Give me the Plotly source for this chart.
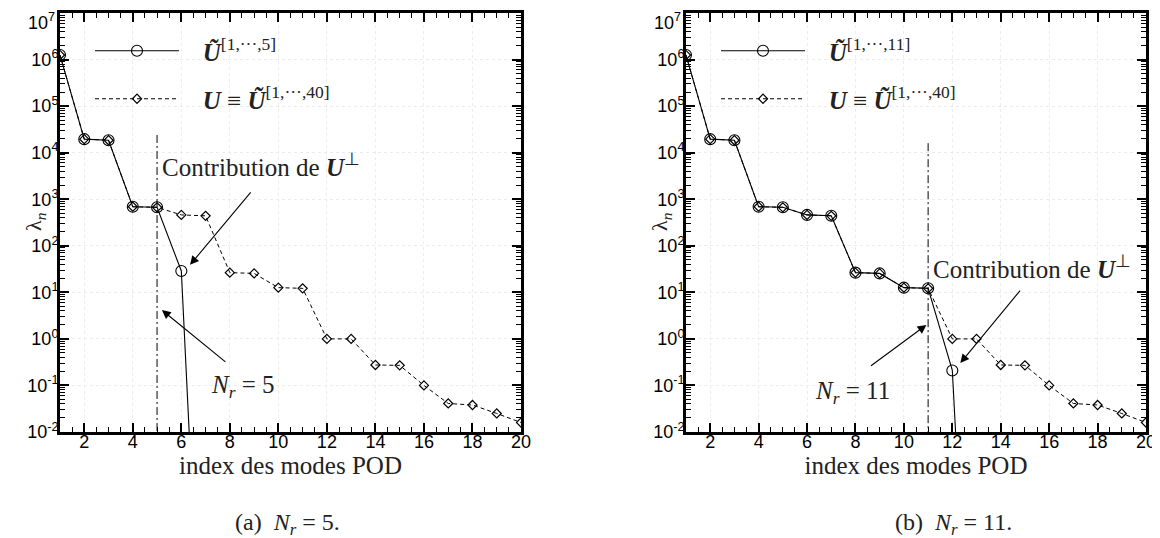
import plotly.graph_objects as go

# ---------------- data ----------------
modes = list(range(1, 21))
lambda_full = [1.25e6, 1.95e4, 1.85e4, 690, 670, 460, 440, 26.5, 25.5, 12.6, 12.2,
               1.0, 1.0, 0.275, 0.27, 0.10, 0.041, 0.038, 0.025, 0.016]
lambda_r5 = [1.25e6, 1.95e4, 1.85e4, 690, 670, 28.8, 6e-10]
lambda_r11 = [1.25e6, 1.95e4, 1.85e4, 690, 670, 460, 440, 26.5, 25.5, 12.6, 12.2, 0.21, 3e-11]
Nr_values = [5, 11]
vline_top = [2.4e4, 1.6e4]
y_exponents = list(range(-2, 8))
x_tick_vals = list(range(2, 21, 2))

SERIF = "Liberation Serif, Times New Roman, serif"
SANS = "Liberation Sans, Arial, sans-serif"

# page body has an 8px margin: figure is sized/placed to compensate
OFF = 8
W, H = 1160 - OFF, 538 - OFF

def px(x):
    return (x - OFF) / W

def py(y):
    return 1 - (y - OFF) / H

fig = go.Figure()

NB = "\u00a0\u00a0\u00a0"
panels = [
    dict(x="x", y="y", red=lambda_r5, nr=Nr_values[0], sup="[1,···,5]", lg=("legend", "legend2")),
    dict(x="x2", y="y2", red=lambda_r11, nr=Nr_values[1], sup="[1,···,11]", lg=("legend3", "legend4")),
]

for i, p in enumerate(panels):
    # full basis (dashed, diamonds)
    fig.add_trace(go.Scatter(
        x=modes, y=lambda_full, xaxis=p["x"], yaxis=p["y"], mode="lines+markers",
        line=dict(color="black", width=1, dash="4px,3px"),
        marker=dict(symbol="diamond-open", size=7, color="black", line=dict(width=1.2, color="black")),
        name=NB + "<b><i>U</i></b> ≡ <b><i>Ũ</i></b><sup>[1,···,40]</sup>",
        legend=p["lg"][1], cliponaxis=True))
    # reduced basis (solid, circles)
    fig.add_trace(go.Scatter(
        x=modes[:len(p["red"])], y=p["red"], xaxis=p["x"], yaxis=p["y"], mode="lines+markers",
        line=dict(color="black", width=1.1),
        marker=dict(symbol="circle-open", size=11, color="black", line=dict(width=1.1, color="black")),
        name=NB + "<b><i>Ũ</i></b><sup>" + p["sup"] + "</sup>",
        legend=p["lg"][0], cliponaxis=True))
    # vertical dash-dot line at N_r
    fig.add_trace(go.Scatter(
        x=[p["nr"], p["nr"]], y=[vline_top[i], 10 ** y_exponents[0]], xaxis=p["x"], yaxis=p["y"],
        mode="lines", line=dict(color="black", width=1, dash="8px,3px,2px,3px"),
        showlegend=False, hoverinfo="skip"))

def xaxis_cfg(domain):
    return dict(
        domain=domain, range=[1, 20], tickmode="array", tickvals=x_tick_vals,
        ticks="inside", ticklen=9, tickwidth=1.8, tickcolor="black",
        showline=True, linewidth=3, linecolor="black", mirror="allticks",
        showgrid=True, gridcolor="#ececec", griddash="dot", gridwidth=1,
        zeroline=False, automargin=False, ticklabelstandoff=-9, ticklabeloverflow="allow",
        minor=dict(tickmode="linear", tick0=0, dtick=0.5, ticks="inside", ticklen=5,
                   tickwidth=1.2, tickcolor="black", showgrid=False),
        tickfont=dict(family=SANS, size=18, color="black"),
        title=dict(text="index des modes POD", font=dict(family=SERIF, size=25, color="#222"), standoff=2),
    )

minor_y = [k * 10 ** e for e in y_exponents[:-1] for k in range(2, 10)]
# the top label (10^7) would be clipped at the page edge; it is drawn as an annotation below
y_tick_text = ["10<sup>%d</sup>" % e if e < y_exponents[-1] else "" for e in y_exponents]

def yaxis_cfg(anchor):
    return dict(
        domain=[py(432), py(13)], anchor=anchor, type="log", range=[-2, 7],
        tickmode="array", tickvals=[10 ** e for e in y_exponents],
        ticktext=y_tick_text,
        ticks="inside", ticklen=9, tickwidth=1.8, tickcolor="black",
        showline=True, linewidth=3, linecolor="black", mirror="allticks",
        showgrid=True, gridcolor="#ececec", griddash="dot", gridwidth=1,
        zeroline=False, automargin=False, ticklabelstandoff=-5, ticklabeloverflow="allow",
        minor=dict(tickmode="array", tickvals=minor_y, ticks="inside", ticklen=5,
                   tickwidth=1.2, tickcolor="black", showgrid=False),
        tickfont=dict(family=SANS, size=18, color="black"),
    )

legend_common = dict(bgcolor="rgba(0,0,0,0)", font=dict(family=SERIF, size=25, color="#222"),
                     itemwidth=84, xanchor="left", yanchor="middle", borderwidth=0)

fig.update_layout(
    width=W, height=H, margin=dict(l=0, r=0, t=0, b=0, autoexpand=False),
    paper_bgcolor="white", plot_bgcolor="white",
    xaxis=dict(**xaxis_cfg([px(60), px(521)]), anchor="y"),
    yaxis=yaxis_cfg("x"),
    xaxis2=dict(**xaxis_cfg([px(686), px(1146)]), anchor="y2"),
    yaxis2=yaxis_cfg("x2"),
    legend=dict(**legend_common, x=px(90), y=py(51)),
    legend2=dict(**legend_common, x=px(90), y=py(99)),
    legend3=dict(**legend_common, x=px(716), y=py(51)),
    legend4=dict(**legend_common, x=px(716), y=py(99)),
    showlegend=True,
)

txt_font = dict(family=SERIF, size=25, color="#222")
ann = []
# top y tick label of each panel
for xp in (px(57), px(683)):
    ann.append(dict(xref="paper", yref="paper", x=xp, y=1.0, xanchor="right", yanchor="top",
                    text="10<sup>%d</sup>" % y_exponents[-1], showarrow=False,
                    font=dict(family=SANS, size=18, color="black")))
# y-axis titles
for xp in (px(35), px(661)):
    ann.append(dict(xref="paper", yref="paper", x=xp, y=py(222), textangle=-90,
                    xanchor="center", yanchor="middle",
                    text="λ<sub><i>n</i></sub>", showarrow=False,
                    font=dict(family=SERIF, size=22, color="#222")))
# Left panel
ann.append(dict(xref="x", yref="y", x=5.12, y=3.74, xanchor="left", yanchor="middle",
                text="Contribution de <b><i>U</i></b><sup>⊥</sup>", showarrow=False, font=txt_font))
ann.append(dict(xref="x", yref="y", x=6.36, y=1.59, axref="x", ayref="y", ax=8.91, ay=3.18,
                text="", showarrow=True, arrowhead=2, arrowsize=1.6, arrowwidth=1.1, arrowcolor="black"))
ann.append(dict(xref="x", yref="y", x=8.54, y=-1.03, xanchor="center", yanchor="middle",
                text="<i>N</i><sub><i>r</i></sub> = 5",
                showarrow=False, font=dict(family=SERIF, size=25, color="#222")))
ann.append(dict(xref="x", yref="y", x=5.2, y=0.62, axref="x", ayref="y", ax=7.88, ay=-0.52,
                text="", showarrow=True, arrowhead=2, arrowsize=1.6, arrowwidth=1.1, arrowcolor="black"))
# Right panel
ann.append(dict(xref="x2", yref="y2", x=11.14, y=1.545, xanchor="left", yanchor="middle",
                text="Contribution de <b><i>U</i></b><sup>⊥</sup>", showarrow=False, font=txt_font))
ann.append(dict(xref="x2", yref="y2", x=12.33, y=-0.52, axref="x2", ayref="y2", ax=14.85, ay=1.07,
                text="", showarrow=True, arrowhead=2, arrowsize=1.6, arrowwidth=1.1, arrowcolor="black"))
ann.append(dict(xref="x2", yref="y2", x=7.88, y=-1.16, xanchor="center", yanchor="middle",
                text="<i>N</i><sub><i>r</i></sub> = 11",
                showarrow=False, font=dict(family=SERIF, size=25, color="#222")))
ann.append(dict(xref="x2", yref="y2", x=10.93, y=0.30, axref="x2", ayref="y2", ax=8.58, ay=-0.60,
                text="", showarrow=True, arrowhead=2, arrowsize=1.6, arrowwidth=1.1, arrowcolor="black"))
# Captions
ann.append(dict(xref="paper", yref="paper", x=px(287), y=py(524), xanchor="center", yanchor="middle",
                text="(a)  <i>N</i><sub><i>r</i></sub> = 5.", showarrow=False,
                font=dict(family=SERIF, size=24, color="#222")))
ann.append(dict(xref="paper", yref="paper", x=px(953), y=py(524), xanchor="center", yanchor="middle",
                text="(b)  <i>N</i><sub><i>r</i></sub> = 11.", showarrow=False,
                font=dict(family=SERIF, size=24, color="#222")))
fig.update_layout(annotations=ann)

fig.write_html("out.html")
